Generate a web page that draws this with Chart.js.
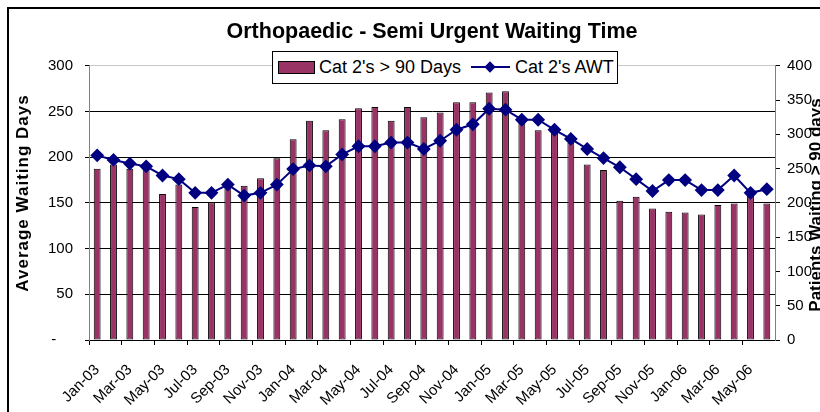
<!DOCTYPE html>
<html>
<head>
<meta charset="utf-8">
<title>Orthopaedic - Semi Urgent Waiting Time</title>
<script src="https://cdn.jsdelivr.net/npm/chart.js@4/dist/chart.umd.min.js"></script>
<style>
  html, body { margin: 0; padding: 0; background: #fff; overflow: hidden; }
  #frame { position: absolute; left: 7px; top: 7px; width: 900px; height: 500px; border: 2px solid #000; }
  #wrap { position: absolute; left: 0; top: 0; width: 820px; height: 412px; }
  #legend { position: absolute; left: 272px; top: 51px; width: 344px; height: 31px; border: 1px solid #000;
    background: #fff; font: 18px "Liberation Sans", Arial, sans-serif; color: #000; }
  #legend span { position: absolute; top: 0; line-height: 31px; white-space: nowrap; }
  #legend .swatch { position: absolute; left: 5px; top: 9px; width: 35px; height: 11px; background: #993366; border: 1px solid #000; }
  #legend .stroke { position: absolute; left: 198px; top: 14px; width: 39px; height: 2px; background: #000080; }
  #legend .diamond { position: absolute; left: 213px; top: 11px; width: 8px; height: 8px; background: #000080; transform: rotate(45deg); }
</style>
</head>
<body>
<div id="frame"></div>
<div id="wrap"><canvas id="chart" width="820" height="412"></canvas></div>
<div id="legend">
  <div class="swatch"></div><span style="left:46px">Cat 2's &gt; 90 Days</span>
  <div class="stroke"></div><div class="diamond"></div><span style="left:242px">Cat 2's AWT</span>
</div>
<script>
const months = ["Jan-03", "Feb-03", "Mar-03", "Apr-03", "May-03", "Jun-03", "Jul-03", "Aug-03", "Sep-03", "Oct-03", "Nov-03", "Dec-03",
  "Jan-04", "Feb-04", "Mar-04", "Apr-04", "May-04", "Jun-04", "Jul-04", "Aug-04", "Sep-04", "Oct-04", "Nov-04", "Dec-04",
  "Jan-05", "Feb-05", "Mar-05", "Apr-05", "May-05", "Jun-05", "Jul-05", "Aug-05", "Sep-05", "Oct-05", "Nov-05", "Dec-05",
  "Jan-06", "Feb-06", "Mar-06", "Apr-06", "May-06", "Jun-06"];

// patients waiting > 90 days (right axis)
const over90 = [250, 256, 250, 253, 213, 227, 194, 201, 225, 225, 236, 265,
  293, 320, 306, 322, 338, 340, 320, 340, 325, 332, 347, 347,
  361, 363, 327, 306, 305, 288, 256, 248, 203, 209, 192, 187,
  186, 183, 197, 199, 210, 199];

// average waiting time in days (left axis)
const awt = [202, 197, 193, 190, 180, 176, 161, 161, 170, 158, 161, 170,
  187, 191, 190, 203, 212, 212, 216, 216, 209, 218, 230, 236,
  253, 252, 241, 241, 230, 220, 209, 199, 189, 176, 163, 175,
  175, 164, 164, 180, 161, 165];

const leftTicks = [0, 50, 100, 150, 200, 250, 300];
const rightTicks = [0, 50, 100, 150, 200, 250, 300, 350, 400];

const chartTitle = "Orthopaedic - Semi Urgent Waiting Time";
const leftTitle = "Average Waiting Days";
const rightTitle = "Patients Waiting > 90 days";

Chart.defaults.font.family = '"Liberation Sans", Arial, sans-serif';
Chart.defaults.color = "#000";

const axisTitles = {
  id: "axisTitles",
  afterDraw(chart) {
    const ctx = chart.ctx;
    ctx.save();
    ctx.fillStyle = "#000";
    ctx.font = 'bold 17px "Liberation Sans", Arial, sans-serif';
    ctx.textAlign = "center";
    ctx.textBaseline = "middle";
    ctx.letterSpacing = "1px";
    ctx.translate(23, 193);
    ctx.rotate(-Math.PI / 2);
    ctx.fillText(leftTitle, 0, 0);
    ctx.restore();

    ctx.save();
    ctx.fillStyle = "#000";
    ctx.font = 'bold 17px "Liberation Sans", Arial, sans-serif';
    ctx.textAlign = "center";
    ctx.textBaseline = "middle";
    ctx.translate(816, 205);
    ctx.rotate(-Math.PI / 2);
    ctx.fillText(rightTitle, 0, 0);
    ctx.restore();
  }
};

new Chart(document.getElementById("chart"), {
  type: "bar",
  data: {
    labels: months,
    datasets: [{
      type: "line",
      label: "Cat 2's AWT",
      data: awt,
      yAxisID: "y",
      borderColor: "#000080",
      borderWidth: 2,
      pointStyle: "rectRot",
      pointRadius: 5.5,
      pointBackgroundColor: "#000080",
      pointBorderColor: "#000080",
      tension: 0,
      order: 1
    }, {
      type: "bar",
      label: "Cat 2's > 90 Days",
      data: over90,
      yAxisID: "y1",
      backgroundColor: "#993366",
      borderColor: "#000",
      borderWidth: 1,
      borderSkipped: false,
      barPercentage: 0.42,
      categoryPercentage: 1,
      order: 2
    }]
  },
  options: {
    responsive: false,
    animation: false,
    layout: { padding: 0 },
    plugins: {
      legend: { display: false },
      tooltip: { enabled: false },
      title: {
        display: true,
        text: chartTitle,
        fullSize: false,
        color: "#000",
        font: { size: 21.5, weight: "bold" },
        padding: { top: 19, bottom: 21 }
      }
    },
    scales: {
      x: {
        offset: true,
        grid: {
          display: true,
          offset: true,
          drawOnChartArea: false,
          tickLength: 5,
          color: c => c.index % 2 === 0 ? "#000" : "rgba(0,0,0,0)",
          tickColor: c => c.index % 2 === 0 ? "#000" : "rgba(0,0,0,0)"
        },
        border: { color: "#000", width: 1 },
        ticks: {
          autoSkip: false,
          minRotation: 45,
          maxRotation: 45,
          padding: 16,
          color: "#000",
          font: { size: 15 },
          callback: (v, i) => i % 2 === 0 ? months[i] : ""
        },
        afterFit: s => { s.height = 72; }
      },
      y: {
        position: "left",
        min: leftTicks[0],
        max: leftTicks[leftTicks.length - 1],
        afterBuildTicks: s => { s.ticks = leftTicks.map(v => ({ value: v })); },
        ticks: {
          padding: 12,
          color: "#000",
          font: { size: 15 },
          callback: v => v === 0 ? "-    " : v
        },
        grid: {
          color: c => c.tick && c.tick.value === 300 ? "#c8c8c8" : "#000",
          tickColor: "#000",
          tickLength: 4,
          lineWidth: 1
        },
        border: { color: "#808080", width: 1 },
        afterFit: s => { s.width = 89; }
      },
      y1: {
        position: "right",
        min: rightTicks[0],
        max: rightTicks[rightTicks.length - 1],
        afterBuildTicks: s => { s.ticks = rightTicks.map(v => ({ value: v })); },
        ticks: {
          padding: 7,
          color: "#000",
          font: { size: 15 }
        },
        grid: {
          drawOnChartArea: false,
          color: "#000",
          tickLength: 5
        },
        border: { color: "#808080", width: 1 },
        afterFit: s => { s.width = 45; }
      }
    }
  },
  plugins: [axisTitles]
});
</script>
</body>
</html>
